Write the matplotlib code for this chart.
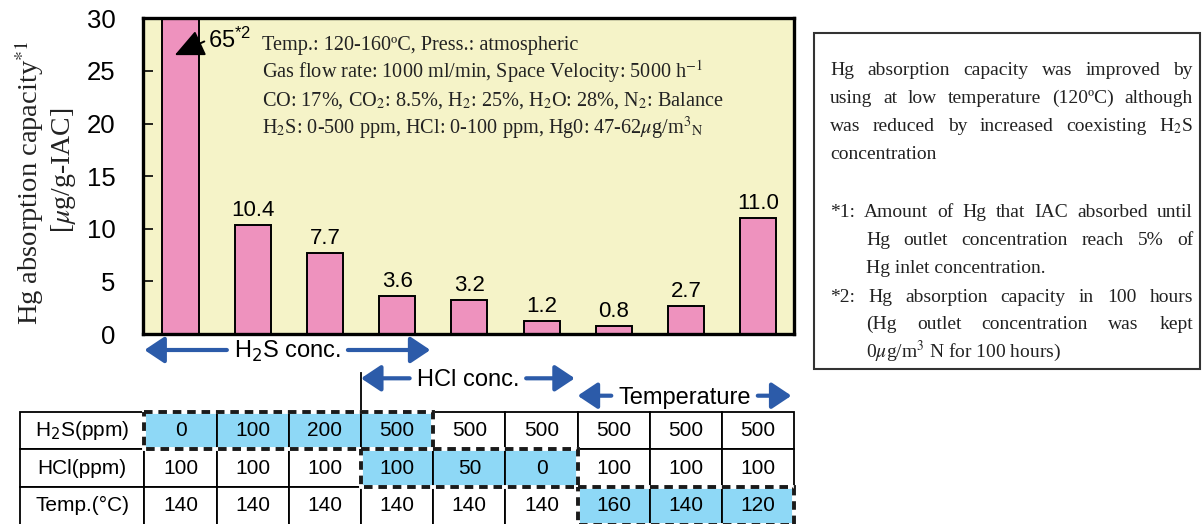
import matplotlib.pyplot as plt
from matplotlib.patches import Rectangle
import numpy as np

plt.rcParams['font.family'] = 'Liberation Sans'
plt.rcParams['mathtext.fontset'] = 'custom'
plt.rcParams['mathtext.rm'] = 'Liberation Sans'
plt.rcParams['mathtext.it'] = 'Liberation Sans:italic'

# --- data ---
heights = [65, 10.4, 7.7, 3.6, 3.2, 1.2, 0.8, 2.7, 11.0]
yticks = [0, 5, 10, 15, 20, 25, 30]
row_names = ["H$_2$S(ppm)", "HCl(ppm)", "Temp.(°C)"]
h2s_ppm = [0, 100, 200, 500, 500, 500, 500, 500, 500]
hcl_ppm = [100, 100, 100, 100, 50, 0, 100, 100, 100]
temp_c = [140, 140, 140, 140, 140, 140, 160, 140, 120]
# varied condition: label, table row, first column, last column
groups = [("H$_2$S conc.", 0, 0, 3), ("HCl conc.", 1, 3, 5), ("Temperature", 2, 6, 8)]

BG = "#f5f3c8"
PINK = "#ee92be"
CYAN = "#8ed8f6"
BLUE = "#2c5ba9"

W, H = 1202, 524
fig = plt.figure(figsize=(W / 100, H / 100), dpi=100)


def fx(px):
    return px / W


def fy(py):
    return 1 - py / H


def box(l, t, r, b):
    return [l / W, 1 - b / H, (r - l) / W, (b - t) / H]


serif = dict(family='Liberation Serif', math_fontfamily='stix', color='#222222')

# --- bar chart ---
ax = fig.add_axes(box(143.3, 18.3, 794.3, 334))
ax.set_facecolor(BG)
x = np.arange(len(heights))
ax.bar(x, heights, width=0.5, color=PINK, edgecolor='black', linewidth=1.4, zorder=2)
ax.set_xlim(-0.515, 8.5)
ax.set_ylim(0, 30)
ax.set_xticks([])
ax.set_yticks(yticks)
ax.tick_params(axis='y', direction='in', length=7, width=1.2, pad=20, labelsize=18.5)
for s in ax.spines.values():
    s.set_linewidth(2.4)
    s.set_zorder(3)

for xi, h in zip(x[1:], heights[1:]):
    ax.annotate(f"{h:.1f}", (xi, h), xytext=(0, 6.5), textcoords='offset points',
                ha='center', va='baseline', fontsize=16)
# the first bar runs off the top: value written beside it with a pointer
ax.text(0.38, 27.2, f"{heights[0]:.0f}" + r"$^{*2}$", ha='left', va='baseline', fontsize=17)
ax.annotate('', xy=(-0.08, 26.5), xytext=(0.33, 27.8), annotation_clip=False,
            arrowprops=dict(arrowstyle='-|>,head_length=1.3,head_width=0.6', color='black',
                            lw=1.4, shrinkA=0, shrinkB=0, mutation_scale=14))

cond = ["Temp.: 120-160ºC, Press.: atmospheric",
        "Gas flow rate: 1000 ml/min, Space Velocity: 5000 h$^{\\mathrm{-1}}$",
        "CO: 17%, CO$_2$: 8.5%, H$_2$: 25%, H$_2$O: 28%, N$_2$: Balance",
        "H$_2$S: 0-500 ppm, HCl: 0-100 ppm, Hg0: 47-62$\\mu$g/m$^3$$_{\\mathrm{N}}$"]
for i, line in enumerate(cond):
    fig.text(fx(262), fy(50 + 28 * i), line, ha='left', va='baseline', fontsize=14.6, **serif)

fig.text(fx(29), fy(183), "Hg absorption capacity$^{*1}$", rotation=90, ha='center',
         va='center', fontsize=20.5, **serif)
fig.text(fx(63), fy(170), "[$\\mu$g/g-IAC]", rotation=90, ha='center', va='center',
         fontsize=20, **serif)

# --- condition table ---
tab = fig.add_axes(box(20, 411.7, 794.3, 524.5))
tab.set_xlim(8.5 - 774.3 / 72.21, 8.5)
tab.set_ylim(3, 0)
tab.axis('off')
lab_x0 = tab.get_xlim()[0]

rows = [h2s_ppm, hcl_ppm, temp_c]
for r, (name, vals) in enumerate(zip(row_names, rows)):
    tab.add_patch(Rectangle((lab_x0, r), -0.5 - lab_x0, 1, facecolor='white',
                            edgecolor='black', lw=1.3, clip_on=False))
    tab.text((lab_x0 - 0.5) / 2, r + 0.5, name, ha='center', va='center', fontsize=15,
             math_fontfamily='dejavusans')
    for c, v in enumerate(vals):
        hi = any(g[1] == r and g[2] <= c <= g[3] for g in groups)
        tab.add_patch(Rectangle((c - 0.5, r), 1, 1, facecolor=CYAN if hi else 'white',
                                edgecolor='black', lw=1.3, clip_on=False))
        tab.text(c, r + 0.5, str(v), ha='center', va='center', fontsize=15)

for label, r, c0, c1 in groups:
    for col, ls in (('white', '-'), ('#1a1a1a', (0, (2.2, 1.5)))):
        tab.add_patch(Rectangle((c0 - 0.5, r), c1 - c0 + 1, 1, fill=False, edgecolor=col,
                                lw=2.8, ls=ls, clip_on=False, zorder=4))

arrow_py = [350, 378.3, 395.7]
rend = fig.canvas.get_renderer()
inv = tab.transData.inverted()
for (label, r, c0, c1), py in zip(groups, arrow_py):
    ya = (py - 411.7) / 37.6
    left, right = c0 - 0.5, c1 + 0.46
    t = tab.text((left + right) / 2, ya + 0.21, label, ha='center', va='baseline',
                 fontsize=17, math_fontfamily='dejavusans', clip_on=False)
    bb = t.get_window_extent(rend)
    tl = inv.transform((bb.x0 - 7, 0))[0]
    tr = inv.transform((bb.x1 + 7, 0))[0]
    for xs, xe in ((tl, left), (tr, right)):
        tab.annotate('', xy=(xe, ya), xytext=(xs, ya), annotation_clip=False,
                     arrowprops=dict(arrowstyle='-|>,head_length=0.6,head_width=0.4',
                                     color=BLUE, lw=3, shrinkA=0, shrinkB=0,
                                     mutation_scale=20))
    if r == 1:
        tab.plot([left, left], [ya - 0.14, 0], color='black', lw=1.3, clip_on=False)

# --- note box on the right ---
fig.patches.append(Rectangle((fx(814.3), fy(369.3)), fx(1199.5) - fx(814.3),
                             fy(33.3) - fy(369.3), transform=fig.transFigure,
                             fill=False, edgecolor='#333333', lw=1.5))

notes = [(830, "Hg absorption capacity was improved by", True),
         (830, "using at low temperature (120ºC) although", True),
         (830, "was reduced by increased coexisting H$_2$S", True),
         (830, "concentration", False),
         (830, "*1: Amount of Hg that IAC absorbed until", True),
         (866, "Hg outlet concentration reach 5% of", True),
         (866, "Hg inlet concentration.", False),
         (830, "*2: Hg absorption capacity in 100 hours", True),
         (866, "(Hg outlet concentration was kept", True),
         (866, "0$\\mu$g/m$^3$ N for 100 hours)", False)]
note_base = [75, 103, 131, 159, 217, 245, 273, 302, 329, 357]
for (x0, line, just), yb in zip(notes, note_base):
    if not just:
        fig.text(fx(x0), fy(yb), line, ha='left', va='baseline', fontsize=14, **serif)
        continue
    words = line.split(' ')
    ts = [fig.text(fx(x0), fy(yb), w, ha='left', va='baseline', fontsize=14, **serif)
          for w in words]
    ws = [t.get_window_extent(rend).width for t in ts]
    gap = (1193 - x0 - sum(ws)) / (len(words) - 1)
    pos = x0
    for t, w in zip(ts, ws):
        t.set_x(fx(pos))
        pos += w + gap

fig.savefig('out.png', dpi=100)
